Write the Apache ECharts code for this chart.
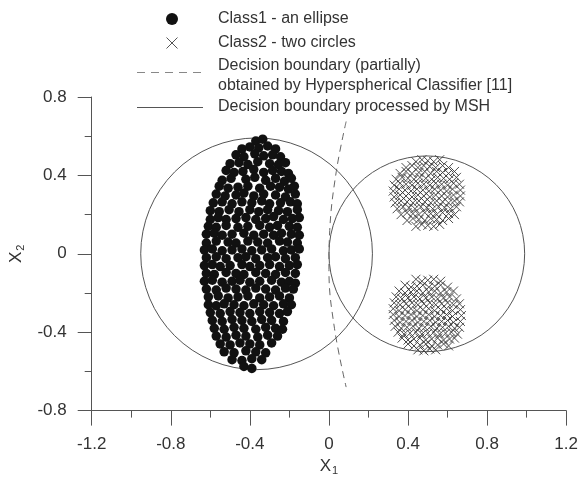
<!DOCTYPE html>
<html>
<head>
<meta charset="utf-8">
<script src="https://cdn.jsdelivr.net/npm/echarts@6/dist/echarts.min.js"></script>
<style>
html,body{margin:0;padding:0;background:#fff;}
#chart{width:581px;height:481px;}
</style>
</head>
<body>
<div id="chart"></div>
<script>
// ---------- data ----------
var xTicks = [-1.2, -0.8, -0.4, 0, 0.4, 0.8, 1.2];
var yTicks = [-0.8, -0.4, 0, 0.4, 0.8];

var legendNames = [
  'Class1 - an ellipse',
  'Class2 - two circles',
  'Decision boundary (partially)',
  'obtained by Hyperspherical Classifier [11]',
  'Decision boundary processed by MSH'
];

// Class1 - ellipse (filled dots)
var class1 = [
[-0.37,0.575],[-0.335,0.585],
[-0.44,0.535],[-0.40,0.545],[-0.355,0.54],[-0.31,0.55],[-0.27,0.535],
[-0.47,0.505],[-0.43,0.495],[-0.375,0.51],[-0.33,0.50],[-0.285,0.505],[-0.245,0.495],
[-0.50,0.46],[-0.455,0.465],[-0.41,0.455],[-0.36,0.47],[-0.30,0.46],[-0.255,0.455],[-0.22,0.465],
[-0.52,0.425],[-0.48,0.415],[-0.435,0.42],[-0.38,0.43],[-0.33,0.415],[-0.285,0.425],[-0.24,0.42],[-0.205,0.41],
[-0.54,0.375],[-0.495,0.385],[-0.42,0.38],[-0.375,0.39],[-0.32,0.375],[-0.27,0.385],[-0.225,0.37],[-0.19,0.385],
[-0.555,0.345],[-0.51,0.335],[-0.46,0.34],[-0.41,0.345],[-0.35,0.335],[-0.295,0.345],[-0.25,0.34],[-0.205,0.33],[-0.175,0.345],
[-0.57,0.305],[-0.525,0.295],[-0.47,0.30],[-0.43,0.31],[-0.38,0.295],[-0.33,0.305],[-0.27,0.30],[-0.22,0.29],[-0.17,0.305],
[-0.585,0.26],[-0.54,0.265],[-0.49,0.255],[-0.44,0.265],[-0.39,0.26],[-0.34,0.27],[-0.30,0.255],[-0.245,0.26],[-0.195,0.265],[-0.16,0.255],
[-0.60,0.22],[-0.555,0.215],[-0.505,0.225],[-0.455,0.215],[-0.40,0.225],[-0.355,0.215],[-0.31,0.225],[-0.255,0.22],[-0.21,0.215],[-0.16,0.225],
[-0.60,0.175],[-0.56,0.185],[-0.52,0.175],[-0.47,0.18],[-0.42,0.185],[-0.37,0.175],[-0.32,0.18],[-0.28,0.19],[-0.23,0.175],[-0.185,0.18],[-0.15,0.185],
[-0.61,0.14],[-0.57,0.135],[-0.52,0.145],[-0.46,0.135],[-0.41,0.14],[-0.35,0.145],[-0.30,0.135],[-0.26,0.145],[-0.20,0.14],[-0.16,0.135],
[-0.62,0.10],[-0.58,0.105],[-0.54,0.095],[-0.49,0.10],[-0.43,0.105],[-0.38,0.095],[-0.33,0.10],[-0.28,0.095],[-0.24,0.105],[-0.19,0.10],[-0.15,0.095],
[-0.62,0.055],[-0.57,0.065],[-0.51,0.06],[-0.47,0.055],[-0.41,0.065],[-0.36,0.06],[-0.31,0.055],[-0.25,0.065],[-0.21,0.06],[-0.16,0.055],
[-0.63,0.02],[-0.59,0.025],[-0.54,0.015],[-0.49,0.02],[-0.44,0.025],[-0.39,0.015],[-0.34,0.02],[-0.29,0.025],[-0.23,0.015],[-0.19,0.02],[-0.15,0.025],
[-0.62,-0.02],[-0.57,-0.015],[-0.52,-0.025],[-0.46,-0.02],[-0.42,-0.015],[-0.37,-0.025],[-0.31,-0.02],[-0.27,-0.015],[-0.22,-0.025],[-0.17,-0.02],
[-0.63,-0.06],[-0.59,-0.055],[-0.55,-0.065],[-0.50,-0.06],[-0.44,-0.055],[-0.40,-0.065],[-0.35,-0.06],[-0.30,-0.055],[-0.25,-0.065],[-0.20,-0.06],[-0.16,-0.055],
[-0.62,-0.10],[-0.58,-0.105],[-0.52,-0.095],[-0.47,-0.10],[-0.43,-0.105],[-0.37,-0.095],[-0.32,-0.10],[-0.27,-0.105],[-0.22,-0.095],[-0.17,-0.10],
[-0.63,-0.14],[-0.59,-0.135],[-0.54,-0.145],[-0.49,-0.14],[-0.45,-0.135],[-0.40,-0.145],[-0.35,-0.14],[-0.29,-0.135],[-0.24,-0.145],[-0.20,-0.14],[-0.17,-0.15],
[-0.62,-0.18],[-0.57,-0.185],[-0.52,-0.175],[-0.47,-0.18],[-0.42,-0.185],[-0.37,-0.175],[-0.32,-0.18],[-0.27,-0.185],[-0.22,-0.175],[-0.18,-0.18],
[-0.61,-0.22],[-0.56,-0.215],[-0.51,-0.225],[-0.46,-0.22],[-0.41,-0.215],[-0.35,-0.225],[-0.30,-0.22],[-0.25,-0.215],[-0.20,-0.225],
[-0.61,-0.26],[-0.57,-0.265],[-0.53,-0.255],[-0.48,-0.26],[-0.43,-0.265],[-0.38,-0.255],[-0.33,-0.26],[-0.28,-0.265],[-0.23,-0.255],[-0.19,-0.26],
[-0.60,-0.30],[-0.55,-0.305],[-0.50,-0.295],[-0.45,-0.30],[-0.40,-0.305],[-0.35,-0.295],[-0.30,-0.30],[-0.25,-0.305],[-0.21,-0.295],
[-0.59,-0.34],[-0.54,-0.345],[-0.49,-0.335],[-0.44,-0.34],[-0.39,-0.345],[-0.34,-0.335],[-0.29,-0.34],[-0.23,-0.345],
[-0.58,-0.38],[-0.53,-0.385],[-0.48,-0.375],[-0.43,-0.38],[-0.37,-0.385],[-0.32,-0.375],[-0.27,-0.38],[-0.235,-0.385],
[-0.57,-0.42],[-0.52,-0.425],[-0.47,-0.415],[-0.42,-0.42],[-0.36,-0.425],[-0.31,-0.415],[-0.26,-0.42],
[-0.55,-0.46],[-0.50,-0.465],[-0.45,-0.455],[-0.40,-0.46],[-0.35,-0.465],[-0.29,-0.455],
[-0.53,-0.50],[-0.48,-0.505],[-0.42,-0.495],[-0.37,-0.50],[-0.32,-0.505],
[-0.49,-0.54],[-0.44,-0.545],[-0.39,-0.535],[-0.34,-0.54],
[-0.43,-0.575],[-0.39,-0.585]
];

// Class2 - upper circle of crosses
var class2Upper = [
[0.44,0.47],[0.47,0.48],[0.50,0.475],[0.53,0.47],[0.56,0.48],
[0.39,0.44],[0.42,0.45],[0.45,0.44],[0.48,0.45],[0.51,0.445],[0.54,0.44],[0.575,0.45],[0.605,0.44],
[0.36,0.41],[0.39,0.42],[0.42,0.41],[0.455,0.415],[0.485,0.42],[0.515,0.41],[0.545,0.42],[0.575,0.415],[0.605,0.41],[0.635,0.42],
[0.34,0.38],[0.37,0.39],[0.40,0.385],[0.43,0.38],[0.46,0.39],[0.49,0.385],[0.52,0.38],[0.55,0.39],[0.58,0.385],[0.61,0.38],[0.645,0.39],
[0.33,0.35],[0.36,0.36],[0.39,0.355],[0.42,0.35],[0.45,0.36],[0.48,0.355],[0.51,0.35],[0.54,0.36],[0.57,0.355],[0.60,0.35],[0.63,0.36],[0.66,0.355],
[0.325,0.32],[0.355,0.33],[0.385,0.325],[0.415,0.32],[0.445,0.33],[0.475,0.325],[0.505,0.32],[0.535,0.33],[0.565,0.325],[0.595,0.32],[0.625,0.33],[0.665,0.325],
[0.33,0.29],[0.36,0.30],[0.39,0.295],[0.42,0.29],[0.45,0.30],[0.48,0.295],[0.51,0.29],[0.54,0.30],[0.57,0.295],[0.60,0.29],[0.63,0.30],[0.665,0.295],
[0.335,0.26],[0.365,0.27],[0.395,0.265],[0.425,0.26],[0.455,0.27],[0.485,0.265],[0.515,0.26],[0.545,0.27],[0.575,0.265],[0.605,0.26],[0.635,0.27],[0.66,0.265],
[0.345,0.23],[0.375,0.24],[0.405,0.235],[0.435,0.23],[0.465,0.24],[0.495,0.235],[0.525,0.23],[0.555,0.24],[0.585,0.235],[0.615,0.23],[0.645,0.24],
[0.365,0.20],[0.395,0.21],[0.425,0.205],[0.455,0.20],[0.485,0.21],[0.515,0.205],[0.545,0.20],[0.575,0.21],[0.605,0.205],[0.635,0.20],
[0.395,0.17],[0.425,0.18],[0.455,0.175],[0.485,0.17],[0.515,0.18],[0.545,0.175],[0.575,0.17],[0.605,0.18],
[0.44,0.14],[0.47,0.15],[0.50,0.145],[0.53,0.14],[0.56,0.15]
];

// Class2 - lower circle of crosses
var class2Lower = [
[0.44,-0.13],[0.47,-0.14],[0.50,-0.135],[0.53,-0.13],[0.565,-0.14],
[0.385,-0.16],[0.415,-0.17],[0.445,-0.165],[0.475,-0.16],[0.505,-0.17],[0.535,-0.165],[0.565,-0.16],[0.60,-0.17],
[0.355,-0.19],[0.385,-0.20],[0.415,-0.195],[0.445,-0.19],[0.475,-0.20],[0.505,-0.195],[0.535,-0.19],[0.565,-0.20],[0.595,-0.195],[0.63,-0.19],
[0.34,-0.22],[0.37,-0.23],[0.40,-0.225],[0.43,-0.22],[0.46,-0.23],[0.49,-0.225],[0.52,-0.22],[0.55,-0.23],[0.58,-0.225],[0.61,-0.22],[0.645,-0.23],
[0.33,-0.25],[0.36,-0.26],[0.39,-0.255],[0.42,-0.25],[0.45,-0.26],[0.48,-0.255],[0.51,-0.25],[0.54,-0.26],[0.57,-0.255],[0.60,-0.25],[0.63,-0.26],[0.66,-0.255],
[0.325,-0.28],[0.355,-0.29],[0.385,-0.285],[0.415,-0.28],[0.445,-0.29],[0.475,-0.285],[0.505,-0.28],[0.535,-0.29],[0.565,-0.285],[0.595,-0.28],[0.625,-0.29],[0.665,-0.285],
[0.325,-0.31],[0.355,-0.32],[0.385,-0.315],[0.415,-0.31],[0.445,-0.32],[0.475,-0.315],[0.505,-0.31],[0.535,-0.32],[0.565,-0.315],[0.595,-0.31],[0.625,-0.32],[0.67,-0.315],
[0.33,-0.34],[0.36,-0.35],[0.39,-0.345],[0.42,-0.34],[0.45,-0.35],[0.48,-0.345],[0.51,-0.34],[0.54,-0.35],[0.57,-0.345],[0.60,-0.34],[0.63,-0.35],[0.665,-0.345],
[0.335,-0.37],[0.365,-0.38],[0.395,-0.375],[0.425,-0.37],[0.455,-0.38],[0.485,-0.375],[0.515,-0.37],[0.545,-0.38],[0.575,-0.375],[0.605,-0.37],[0.635,-0.38],[0.66,-0.375],
[0.35,-0.40],[0.38,-0.41],[0.41,-0.405],[0.44,-0.40],[0.47,-0.41],[0.50,-0.405],[0.53,-0.40],[0.56,-0.41],[0.59,-0.405],[0.62,-0.40],[0.65,-0.41],
[0.37,-0.43],[0.40,-0.44],[0.43,-0.435],[0.46,-0.43],[0.49,-0.44],[0.52,-0.435],[0.55,-0.43],[0.58,-0.44],[0.61,-0.435],[0.635,-0.43],
[0.40,-0.46],[0.43,-0.47],[0.46,-0.465],[0.49,-0.46],[0.52,-0.47],[0.55,-0.465],[0.58,-0.46],[0.605,-0.47],
[0.45,-0.49],[0.48,-0.495],[0.51,-0.485],[0.54,-0.49]
];

// MSH decision boundary: two circles (center x, center y, radius)
var mshCenterX = [-0.366, 0.495];
var mshCenterY = [0, 0];
var mshRadius  = [0.586, 0.495];

// Hyperspherical classifier boundary (dashed)
var hscX = [0.087, 0.037, 0.004, 0.0, 0.028, 0.087];
var hscY = [0.675, 0.419, 0.119, -0.08, -0.38, -0.68];

// ---------- chart ----------
var FONT = 'Liberation Sans, Arial, Helvetica, sans-serif';
var AX = '#555';
var TXT = '#333';

var chart = echarts.init(document.getElementById('chart'), null, {renderer: 'canvas'});

var circleData = mshCenterX.map(function (x, i) { return [x, mshCenterY[i], mshRadius[i]]; });
var hscData = hscX.map(function (x, i) { return [x, hscY[i]]; });

var crossPath = 'path://M0,0L10,10M10,0L0,10';

var option = {
  animation: false,
  backgroundColor: '#fff',
  grid: {left: 89, right: 12, top: 97, bottom: 64, containLabel: false},
  xAxis: {
    type: 'value', min: xTicks[0], max: xTicks[xTicks.length - 1], interval: 0.4,
    name: '{a|X}{b|1}', nameLocation: 'middle', nameGap: 44,
    nameTextStyle: {fontFamily: FONT, color: TXT, rich: {
      a: {fontSize: 17, fontFamily: FONT, color: TXT},
      b: {fontSize: 11, fontFamily: FONT, color: TXT, padding: [9, 0, 0, 1]}
    }},
    axisLine: {show: true, onZero: false, lineStyle: {color: AX, width: 1}},
    axisTick: {show: true, length: 15, lineStyle: {color: AX, width: 1}},
    minorTick: {show: true, splitNumber: 2, length: 7, lineStyle: {color: AX, width: 1}},
    splitLine: {show: false},
    axisLabel: {fontSize: 17, color: TXT, fontFamily: FONT, margin: 25}
  },
  yAxis: {
    type: 'value', min: yTicks[0], max: yTicks[yTicks.length - 1], interval: 0.4,
    name: '{a|X}{b|2}', nameLocation: 'middle', nameGap: 60, nameRotate: 90,
    nameTextStyle: {fontFamily: FONT, color: TXT, rich: {
      a: {fontSize: 17, fontFamily: FONT, color: TXT},
      b: {fontSize: 11, fontFamily: FONT, color: TXT, padding: [9, 0, 0, 1]}
    }},
    axisLine: {show: true, onZero: false, lineStyle: {color: AX, width: 1}},
    axisTick: {show: true, length: 14, lineStyle: {color: AX, width: 1}},
    minorTick: {show: true, splitNumber: 2, length: 7, lineStyle: {color: AX, width: 1}},
    splitLine: {show: false},
    axisLabel: {fontSize: 17, color: TXT, fontFamily: FONT, margin: 25}
  },
  series: [
    {
      type: 'custom', name: 'MSH', data: circleData, silent: true, clip: false, z: 1,
      renderItem: function (params, api) {
        var c = api.coord([api.value(0), api.value(1)]);
        var r = api.size([api.value(2), 0])[0];
        return {type: 'circle', shape: {cx: c[0], cy: c[1], r: r},
          style: {fill: 'none', stroke: '#555', lineWidth: 1}};
      }
    },
    {
      type: 'line', name: 'HSC', data: hscData, smooth: 0.4, symbol: 'none', z: 2,
      lineStyle: {color: '#666', width: 1, type: [7, 5]}
    },
    {
      type: 'scatter', name: 'Class1', data: class1, symbol: 'circle', symbolSize: 9.5, z: 3,
      itemStyle: {color: '#111', opacity: 1}
    },
    {
      type: 'scatter', name: 'Class2a', data: class2Upper, symbol: crossPath, symbolSize: 9, z: 3,
      itemStyle: {color: 'rgba(0,0,0,0)', borderColor: '#3a3a3a', borderWidth: 0.9, opacity: 1}
    },
    {
      type: 'scatter', name: 'Class2b', data: class2Lower, symbol: crossPath, symbolSize: 9, z: 3,
      itemStyle: {color: 'rgba(0,0,0,0)', borderColor: '#3a3a3a', borderWidth: 0.9, opacity: 1}
    }
  ],
  graphic: [
    {type: 'circle', shape: {cx: 172, cy: 19, r: 6}, style: {fill: '#111'}},
    {type: 'line', shape: {x1: 166.5, y1: 37.5, x2: 177.5, y2: 48.5}, style: {stroke: '#555', lineWidth: 1}},
    {type: 'line', shape: {x1: 177.5, y1: 37.5, x2: 166.5, y2: 48.5}, style: {stroke: '#555', lineWidth: 1}},
    {type: 'line', shape: {x1: 137, y1: 72.5, x2: 203, y2: 72.5}, style: {stroke: '#888', lineWidth: 1, lineDash: [8, 6]}},
    {type: 'line', shape: {x1: 137, y1: 107.5, x2: 203, y2: 107.5}, style: {stroke: '#555', lineWidth: 1}},
    {type: 'text', x: 218, y: 19, style: {text: legendNames[0], fontSize: 16, fontFamily: FONT, fill: TXT, verticalAlign: 'middle'}},
    {type: 'text', x: 218, y: 43, style: {text: legendNames[1], fontSize: 16, fontFamily: FONT, fill: TXT, verticalAlign: 'middle'}},
    {type: 'text', x: 218, y: 66, style: {text: legendNames[2], fontSize: 16, fontFamily: FONT, fill: TXT, verticalAlign: 'middle'}},
    {type: 'text', x: 218, y: 86, style: {text: legendNames[3], fontSize: 16, fontFamily: FONT, fill: TXT, verticalAlign: 'middle'}},
    {type: 'text', x: 218, y: 107, style: {text: legendNames[4], fontSize: 16, fontFamily: FONT, fill: TXT, verticalAlign: 'middle'}}
  ]
};
chart.setOption(option);
</script>
</body>
</html>
